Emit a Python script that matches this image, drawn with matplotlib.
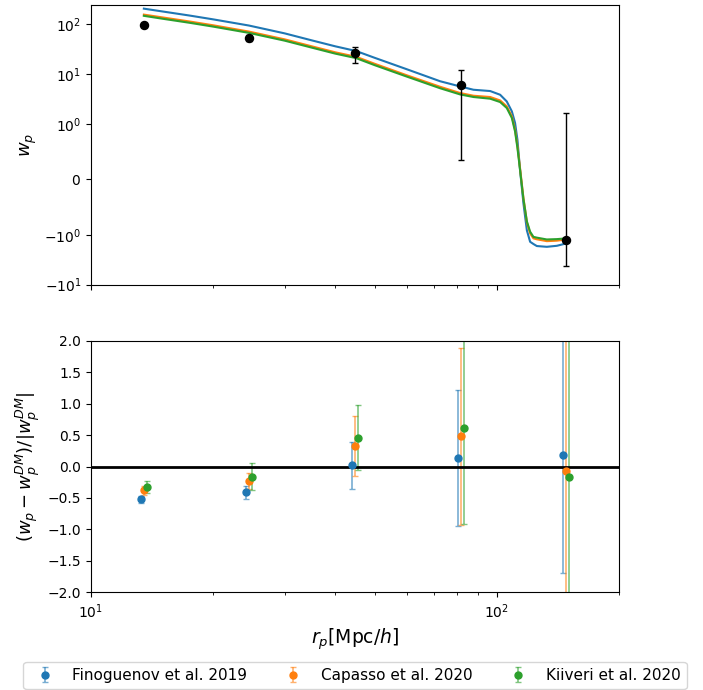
import numpy as np
import matplotlib.pyplot as plt
from matplotlib.ticker import NullLocator

# projected separation of the model curves [Mpc/h]
r_model = [13.5, 15, 17.5, 20, 24.5, 30, 35, 40, 45, 50, 60,
           72.5, 81.2, 87.6, 96.3, 101.9, 105.8, 108.9, 110.9, 112.4, 114.1,
           116.3, 118.6, 120.8, 123.1, 125.5, 132.8, 140.6, 148.2]

# model w_p for the three cluster samples
wp_finoguenov = [205, 180, 149, 125, 94, 65.5, 47.4, 36, 29, 21.2, 12.5,
                 7.18, 5.65, 4.85, 4.57, 3.85, 2.83, 1.79, 1.05, 0.715, 0.169,
                 -0.431, -0.92, -1.38, -1.53, -1.68, -1.74, -1.66, -1.49]
wp_capasso    = [155.6, 136.8, 113.2, 95.1, 71.1, 49.7, 36.0, 27.3, 22.2, 16.1, 9.46,
                 5.56, 4.17, 3.68, 3.47, 2.96, 2.25, 1.42, 0.896, 0.602, 0.2,
                 -0.336, -0.775, -0.975, -1.18, -1.23, -1.34, -1.31, -1.24]
wp_kiiveri    = [147.2, 128.8, 106.7, 89.5, 67.0, 46.8, 33.9, 25.7, 20.9, 15.1, 8.91,
                 5.2, 3.91, 3.47, 3.21, 2.75, 2.09, 1.32, 0.865, 0.569, 0.169,
                 -0.353, -0.758, -0.944, -1.10, -1.14, -1.24, -1.22, -1.18]

# measured w_p (DM) in radial bins
r_bins    = [13.5, 24.5, 44.7, 81.5, 148.3]
wp_dm     = [97, 53, 26, 6.1, -1.26]
wp_dm_err = [8, 8, 9.5, 5.75, 2.9]

# relative difference (w_p - w_p^DM)/|w_p^DM|
labels = ["Finoguenov et al. 2019", "Capasso et al. 2020", "Kiiveri et al. 2020"]
rel_finoguenov     = [-0.52, -0.41, 0.02, 0.13, 0.18]
rel_finoguenov_err = [0.055, 0.10, 0.37, 1.08, 1.88]
rel_capasso        = [-0.38, -0.23, 0.33, 0.48, -0.07]
rel_capasso_err    = [0.07, 0.125, 0.48, 1.41, 2.5]
rel_kiiveri        = [-0.33, -0.16, 0.46, 0.62, -0.17]
rel_kiiveri_err    = [0.095, 0.215, 0.52, 1.54, 2.7]

colors = ["C0", "C1", "C2"]
dodge  = [0.982, 1.0, 1.017]  # small shift in r so the error bars don't overlap

fig = plt.figure(figsize=(7.03, 6.9), dpi=100)
ax1 = fig.add_axes([0.1294, 0.5874, 0.7511, 0.4058])
ax2 = fig.add_axes([0.1294, 0.1416, 0.7511, 0.3646])

# --- top: w_p ---
for wp, c in zip([wp_finoguenov, wp_capasso, wp_kiiveri], colors):
    ax1.plot(r_model, wp, color=c, lw=1.5)
ax1.errorbar(r_bins, wp_dm, yerr=wp_dm_err, fmt="o", color="k", ms=5.8, capsize=2, elinewidth=1)
ax1.set_xscale("log")
ax1.set_yscale("symlog", linthresh=1)
ax1.set_xlim(10, 200)
ax1.set_ylim(-10, 246)
ax1.yaxis.set_minor_locator(NullLocator())
ax1.tick_params(axis="x", which="both", labelbottom=False)
ax1.tick_params(labelsize=10)
ax1.set_ylabel(r"$w_p$", fontsize=13)

# --- bottom: relative difference ---
rels = [rel_finoguenov, rel_capasso, rel_kiiveri]
errs = [rel_finoguenov_err, rel_capasso_err, rel_kiiveri_err]
for rel, err, c, d, lab in zip(rels, errs, colors, dodge, labels):
    eb = ax2.errorbar(np.array(r_bins) * d, rel, yerr=err, fmt="o", color=c, ms=5,
                      capsize=2, elinewidth=1.2, label=lab)
    for bar in eb[2]:
        bar.set_alpha(0.6)
    for cap in eb[1]:
        cap.set_alpha(0.6)
ax2.axhline(0, color="k", lw=2)
ax2.set_xscale("log")
ax2.set_xlim(10, 200)
ax2.set_ylim(-2, 2)
ax2.set_yticks(np.arange(-2, 2.01, 0.5))
ax2.tick_params(labelsize=10)
ax2.set_xlabel(r"$r_p$[Mpc/$h$]", fontsize=13.5)
ax2.set_ylabel(r"$(w_p - w_p^{DM})/|w_p^{DM}|$", fontsize=13)

fig.legend(loc="lower center", bbox_to_anchor=(0.505, 0.0015), ncol=3, fontsize=11,
           borderaxespad=0)

fig.savefig("out.png", dpi=100)
